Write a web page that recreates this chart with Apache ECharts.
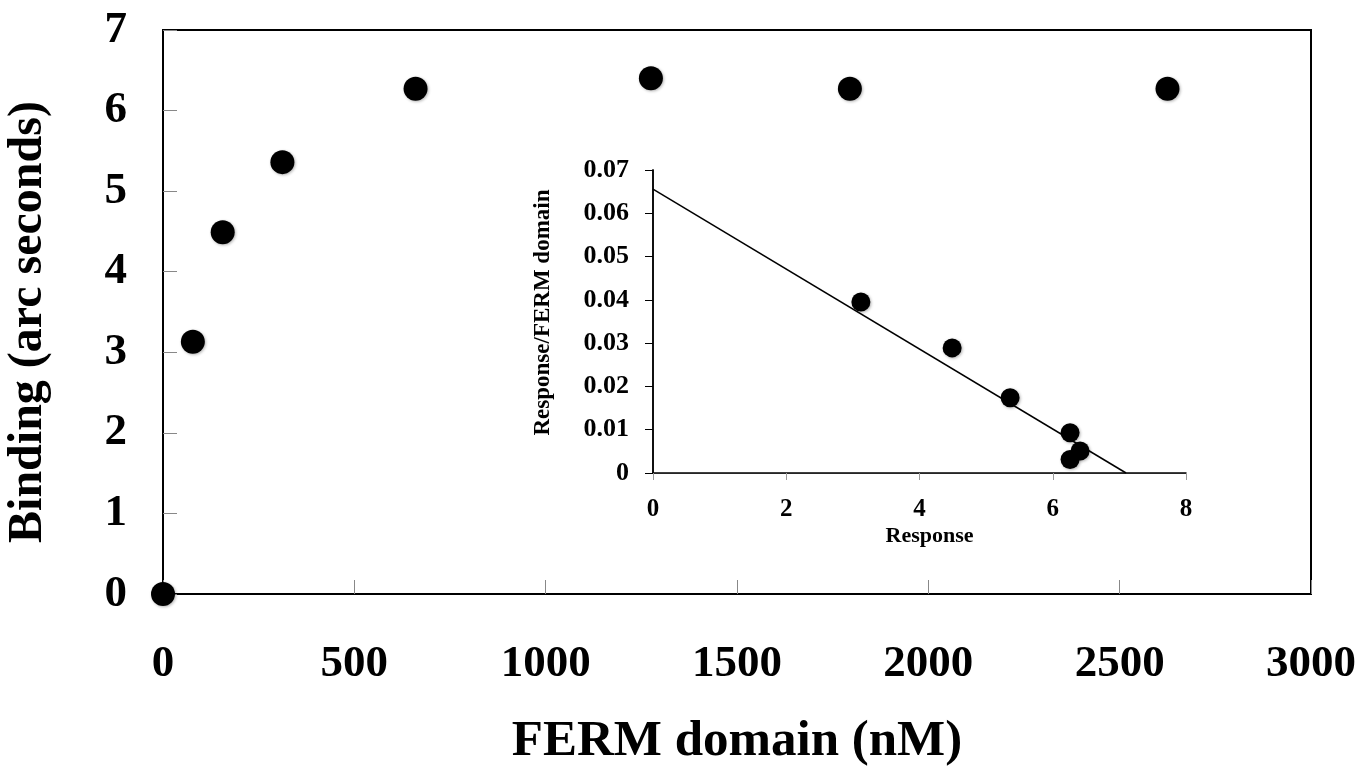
<!DOCTYPE html>
<html>
<head>
<meta charset="utf-8">
<script src="https://cdn.jsdelivr.net/npm/echarts@6/dist/echarts.min.js"></script>
<style>
  html, body { margin: 0; padding: 0; background: #fff; }
  #chart { width: 1359px; height: 768px; }
</style>
</head>
<body>
<div id="chart"></div>
<script>
// main plot: binding vs FERM domain concentration
const fermConc = [0, 78, 156, 312, 660, 1275, 1795, 2625];
const binding = [0, 3.13, 4.49, 5.36, 6.27, 6.40, 6.27, 6.27];

// inset: Scatchard-style plot
const insetResponse = [3.12, 4.49, 5.36, 6.26, 6.41, 6.26];
const insetRatio = [0.0395, 0.0289, 0.0174, 0.0093, 0.0051, 0.0031];
const fitX = [0, 7.1];
const fitY = [0.0656, 0];

const serif = '"Liberation Serif", "DejaVu Serif", serif';

const chart = echarts.init(document.getElementById('chart'));

const pairs = (xs, ys) => xs.map((x, i) => [x, ys[i]]);

const dotStyle = {
    color: '#000',
    opacity: 1,
    shadowBlur: 3,
    shadowColor: 'rgba(0,0,0,0.3)',
    shadowOffsetX: 1,
    shadowOffsetY: 1,
};

chart.setOption({
    backgroundColor: '#fff',
    animation: false,
    grid: [
        {
            left: 163, top: 30, right: 48, bottom: 174,
            outerBoundsMode: 'none', containLabel: false,
            show: true, borderColor: '#000', borderWidth: 2,
        },
        {
            left: 653, top: 170, right: 173, bottom: 295,
            outerBoundsMode: 'none', containLabel: false,
            show: true, backgroundColor: '#fff', borderWidth: 0,
        },
    ],
    xAxis: [
        {
            gridIndex: 0,
            type: 'value',
            min: 0, max: 3000, interval: 500,
            name: 'FERM domain (nM)',
            nameLocation: 'middle',
            nameGap: 122,
            nameTextStyle: { fontFamily: serif, fontWeight: 'bold', fontSize: 51, color: '#000' },
            axisLine: { lineStyle: { color: '#000', width: 2 } },
            axisTick: { inside: true, length: 14, lineStyle: { color: '#888', width: 1 } },
            axisLabel: {
                margin: 48, fontFamily: serif, fontWeight: 'bold', fontSize: 45, color: '#000',
                formatter: (v) => String(v),
            },
            splitLine: { show: false },
        },
        {
            gridIndex: 1,
            type: 'value',
            min: 0, max: 8, interval: 2,
            name: 'Response',
            nameLocation: 'middle',
            nameGap: 52,
            nameTextStyle: { fontFamily: serif, fontWeight: 'bold', fontSize: 22, color: '#000', padding: [0, 0, 0, 20] },
            axisLine: { lineStyle: { color: '#999', width: 1 } },
            axisTick: { length: 7, lineStyle: { color: '#999', width: 1 } },
            axisLabel: { margin: 24, fontFamily: serif, fontWeight: 'bold', fontSize: 25, color: '#000' },
            splitLine: { show: false },
        },
        {
            gridIndex: 1,
            type: 'value',
            position: 'top',
            min: 0, max: 8,
            axisLine: { lineStyle: { color: '#000', width: 1.5 } },
            axisTick: { show: false },
            axisLabel: { show: false },
            splitLine: { show: false },
        },
    ],
    yAxis: [
        {
            gridIndex: 0,
            type: 'value',
            min: 0, max: 7, interval: 1,
            name: 'Binding (arc seconds)',
            nameLocation: 'middle',
            nameGap: 110,
            nameTextStyle: { fontFamily: serif, fontWeight: 'bold', fontSize: 48, color: '#000', padding: [0, 20, 0, 0] },
            axisLine: { lineStyle: { color: '#000', width: 2 } },
            axisTick: { inside: true, length: 14, lineStyle: { color: '#888', width: 1 } },
            axisLabel: { margin: 36, fontFamily: serif, fontWeight: 'bold', fontSize: 45, color: '#000' },
            splitLine: { show: false },
        },
        {
            gridIndex: 1,
            type: 'value',
            min: 0, max: 0.07, interval: 0.01,
            name: 'Response/FERM domain',
            nameLocation: 'middle',
            nameGap: 98,
            nameTextStyle: { fontFamily: serif, fontWeight: 'bold', fontSize: 23, color: '#000', padding: [0, 0, 0, 18] },
            axisLine: { lineStyle: { color: '#000', width: 1.5 } },
            axisTick: { length: 8, lineStyle: { color: '#000', width: 1 } },
            axisLabel: {
                margin: 24, fontFamily: serif, fontWeight: 'bold', fontSize: 26, color: '#000',
                formatter: (v) => (v === 0 ? '0' : v.toFixed(2)),
            },
            splitLine: { show: false },
        },
        {
            gridIndex: 1,
            type: 'value',
            position: 'right',
            min: 0, max: 0.07,
            axisLine: { lineStyle: { color: '#000', width: 1.5 } },
            axisTick: { show: false },
            axisLabel: { show: false },
            splitLine: { show: false },
        },
    ],
    series: [
        {
            type: 'scatter',
            xAxisIndex: 0, yAxisIndex: 0,
            symbolSize: 24,
            itemStyle: dotStyle,
            data: pairs(fermConc, binding),
            z: 5,
        },
        {
            type: 'line',
            xAxisIndex: 1, yAxisIndex: 1,
            showSymbol: false,
            symbol: 'none',
            lineStyle: { color: '#000', width: 1.5 },
            data: pairs(fitX, fitY),
            z: 3,
        },
        {
            type: 'scatter',
            xAxisIndex: 1, yAxisIndex: 1,
            symbolSize: 19,
            itemStyle: dotStyle,
            data: pairs(insetResponse, insetRatio),
            z: 4,
        },
    ],
});
</script>
</body>
</html>
